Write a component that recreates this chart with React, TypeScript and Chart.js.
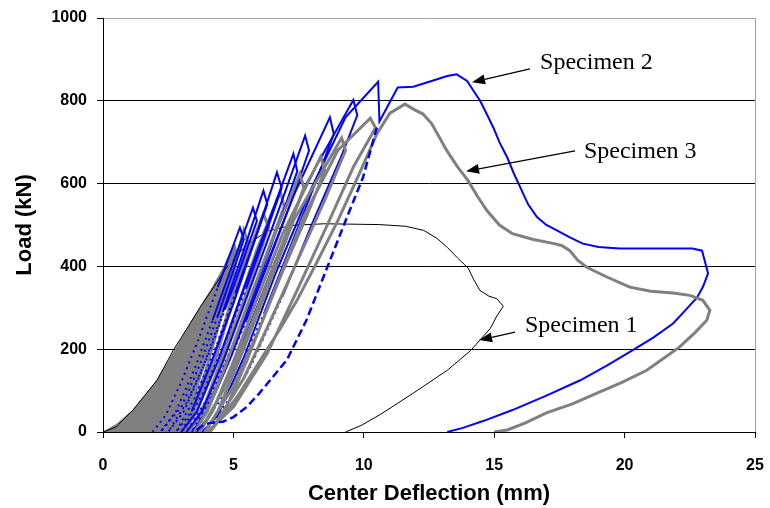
import React, { useEffect, useRef } from 'react';
import { Chart, registerables } from 'chart.js';

Chart.register(...registerables);

type P = [number, number];

// Axis ticks
const xTicks = [0, 5, 10, 15, 20, 25];
const yTicks = [0, 200, 400, 600, 800, 1000];

// Specimen 1: single monotonic loading, softening branch and unloading (kN vs mm)
const spec1: P[] = [
  [0, 0], [0.5, 12], [1.15, 53], [2.07, 125], [2.7, 198], [3.34, 262], [3.72, 301],
  [4.3, 355], [4.75, 398], [5.5, 452], [6.3, 485], [7.2, 499], [8.5, 503], [10.6, 501],
  [11.6, 497], [12.3, 487], [12.8, 468], [13.2, 446], [13.6, 420], [14.0, 396], [14.2, 370],
  [14.45, 342], [14.8, 328], [15.1, 322], [15.35, 304], [15.1, 280], [14.85, 250],
  [14.1, 197], [13.2, 149], [11.9, 94], [10.6, 41], [9.9, 16], [9.3, 0],
];

// Specimen 3: dense band of small early cycles (outline of the overlapping loops)
const spec3Band: P[] = [
  [0, 0], [0.5, 18], [1.15, 53], [1.6, 88], [2.07, 125], [2.76, 198], [3.34, 262],
  [3.72, 301], [4.2, 350], [4.6, 395], [4.85, 430], [5.0, 446], [5.15, 425], [5.05, 385],
  [4.7, 320], [4.3, 250], [3.9, 170], [3.6, 100], [3.4, 45], [3.3, 0], [0, 0],
];

// Specimen 3: first reloading / unloading cycles
const spec3Early: P[] = [
  [2.6, 0], [3.1, 50], [3.6, 130], [4.1, 230], [4.6, 340], [5.05, 446], [5.15, 425], [4.85, 360], [4.35, 260], [3.85, 160], [3.35, 70], [2.9, 0],
  [3.4, 50], [3.9, 140], [4.4, 250], [4.9, 370], [5.4, 487], [5.55, 460], [5.2, 380], [4.7, 270], [4.2, 170], [3.6, 70], [3.1, 0],
  [3.6, 50], [4.2, 150], [4.8, 280], [5.5, 420], [6.15, 527], [6.35, 495], [5.9, 410], [5.3, 300], [4.7, 190], [4.0, 80], [3.3, 0],
  [3.8, 50], [4.4, 150], [5.1, 290], [5.9, 440], [6.8, 580], [6.95, 545], [6.4, 450], [5.7, 330], [5.0, 210], [4.2, 90], [3.5, 0],
];

// Specimen 3: later cycles, then the final loop to failure and unloading
const spec3Late: P[] = [
  [3.5, 0], [4.0, 50], [4.7, 160], [5.5, 300], [6.4, 450], [7.55, 624], [7.7, 590], [7.1, 490], [6.3, 360], [5.5, 230], [4.6, 100], [3.7, 0],
  [4.2, 50], [5.0, 170], [5.9, 320], [6.9, 480], [8.35, 665], [8.5, 630], [7.8, 520], [6.9, 390], [6.0, 250], [5.0, 110], [3.9, 0],
  [4.4, 50], [5.2, 170], [6.2, 330], [7.3, 510], [9.15, 710], [9.3, 680], [8.5, 560], [7.5, 420], [6.5, 280], [5.4, 130], [4.1, 0],
  [4.6, 40], [5.5, 170], [6.5, 330], [7.7, 520], [9.0, 680], [10.25, 758], [10.45, 735], [9.6, 640], [8.6, 500], [7.5, 350], [6.3, 190], [5.0, 60], [4.0, 0],
  [4.5, 30], [5.2, 90], [6.0, 170], [6.8, 250], [7.44, 318], [8.2, 410], [9.0, 510], [9.8, 620], [10.5, 720], [11.0, 770], [11.58, 792],
  [11.9, 780], [12.27, 768], [12.6, 745], [13.19, 679], [13.6, 640], [14.0, 607], [14.35, 570], [14.72, 535], [15.2, 500], [15.7, 479],
  [16.5, 465], [17.3, 455], [17.6, 450], [17.9, 438], [18.2, 415], [18.55, 398], [19.3, 375], [20.2, 350], [21.0, 340], [21.86, 336],
  [22.5, 330], [23.0, 318], [23.27, 294], [23.15, 270], [22.7, 240], [22.1, 205], [21.5, 178], [20.85, 149], [19.9, 120], [18.94, 94],
  [18.0, 68], [17.0, 46], [16.2, 22], [15.5, 5], [15.0, 0],
];

// Specimen 2: cycles with growing peaks, then the post-peak branch and unloading
const spec2: P[] = [
  [1.9, 0], [2.4, 40], [3.0, 120], [3.7, 230], [4.4, 350], [5.25, 494], [5.4, 465], [5.0, 390], [4.4, 280], [3.7, 160], [3.0, 60], [2.2, 0],
  [2.8, 50], [3.5, 150], [4.2, 270], [5.0, 410], [5.75, 542], [5.9, 510], [5.4, 420], [4.7, 300], [4.0, 180], [3.2, 70], [2.5, 0],
  [3.1, 50], [3.8, 150], [4.6, 290], [5.4, 440], [6.15, 583], [6.3, 550], [5.8, 460], [5.1, 340], [4.3, 200], [3.5, 80], [2.8, 0],
  [3.4, 50], [4.1, 160], [5.0, 310], [5.8, 460], [6.67, 627], [6.85, 590], [6.3, 490], [5.5, 350], [4.7, 220], [3.8, 90], [3.0, 0],
  [3.6, 50], [4.4, 170], [5.3, 330], [6.3, 500], [7.3, 672], [7.45, 630], [6.9, 530], [6.1, 390], [5.2, 240], [4.2, 100], [3.2, 0],
  [3.8, 50], [4.6, 170], [5.6, 340], [6.7, 530], [7.75, 716], [7.9, 680], [7.3, 570], [6.4, 420], [5.5, 270], [4.4, 110], [3.4, 0],
  [4.0, 50], [4.9, 180], [6.0, 360], [7.3, 570], [8.7, 760], [8.85, 720], [8.2, 610], [7.2, 450], [6.2, 290], [5.0, 120], [3.6, 0],
  [4.2, 50], [5.2, 190], [6.4, 380], [7.8, 600], [9.6, 802], [9.75, 765], [9.1, 660], [8.0, 500], [6.9, 330], [5.6, 150], [4.2, 20], [3.8, 0],
  [4.4, 40], [5.4, 180], [6.6, 380], [8.0, 590], [9.3, 760], [10.55, 846], [10.6, 750], [11.3, 832], [11.9, 834], [12.6, 848],
  [13.2, 860], [13.56, 864], [13.96, 848], [14.2, 825], [14.46, 800], [14.7, 770], [14.97, 735], [15.2, 700], [15.5, 663],
  [15.75, 625], [16.0, 591], [16.3, 550], [16.64, 519], [17.0, 500], [17.4, 487], [17.9, 470], [18.4, 455], [19.0, 447],
  [19.8, 443], [22.6, 443], [22.97, 438], [23.2, 383], [23.0, 350], [22.78, 325], [22.3, 292], [21.86, 262], [21.1, 228],
  [20.3, 197], [19.3, 160], [18.3, 125], [17.0, 88], [15.7, 53], [14.6, 27], [13.8, 10], [13.2, 0],
];

// Specimen 2: sparse-sampled reloading branch before the peak
const spec2Reload: P[] = [
  [3.6, 5], [3.8, 15], [4.1, 22], [4.6, 25], [5.0, 36], [5.5, 60], [6.0, 94], [7.05, 174],
  [7.8, 270], [8.6, 398], [9.35, 518], [9.97, 615], [10.5, 735],
];

// Callouts: text anchor (left, baseline) and arrow tail -> head, in data units
const labelTexts = ['Specimen 2', 'Specimen 3', 'Specimen 1'];
const labelPos: P[] = [[16.76, 877], [18.44, 662], [16.18, 241]];
const arrowFrom: P[] = [[16.37, 877], [18.1, 679], [15.8, 241]];
const arrowTo: P[] = [[14.15, 845], [13.92, 630], [14.42, 222]];

const toXY = (pts: P[]) => pts.map(([x, y]) => ({ x, y }));

const calloutPlugin = {
  id: 'specimenCallouts',
  afterDatasetsDraw(chart: any) {
    const { ctx, scales } = chart;
    const sx = scales.x;
    const sy = scales.y;
    ctx.save();
    ctx.fillStyle = '#000';
    ctx.strokeStyle = '#000';
    ctx.font = '24px "Liberation Serif", "Times New Roman", serif';
    ctx.textAlign = 'left';
    ctx.textBaseline = 'alphabetic';
    labelTexts.forEach((t, i) => {
      ctx.fillText(t, sx.getPixelForValue(labelPos[i][0]), sy.getPixelForValue(labelPos[i][1]));
      const x1 = sx.getPixelForValue(arrowFrom[i][0]);
      const y1 = sy.getPixelForValue(arrowFrom[i][1]);
      const x2 = sx.getPixelForValue(arrowTo[i][0]);
      const y2 = sy.getPixelForValue(arrowTo[i][1]);
      const a = Math.atan2(y2 - y1, x2 - x1);
      const len = 13;
      const half = 5;
      const bx = x2 - len * Math.cos(a);
      const by = y2 - len * Math.sin(a);
      ctx.lineWidth = 1.3;
      ctx.beginPath();
      ctx.moveTo(x1, y1);
      ctx.lineTo(bx, by);
      ctx.stroke();
      ctx.beginPath();
      ctx.moveTo(x2, y2);
      ctx.lineTo(bx + half * Math.sin(a), by - half * Math.cos(a));
      ctx.lineTo(bx - half * Math.sin(a), by + half * Math.cos(a));
      ctx.closePath();
      ctx.fill();
    });
    ctx.restore();
  },
};

// Sparse logger samples on the low-load part of the early cycles show up as dots
const sparseBlue = (c: any) => {
  const y0 = c.p0.parsed.y;
  const y1 = c.p1.parsed.y;
  const low = y0 < 380 && y1 < 380 && c.p0.parsed.x < 7;
  const unloading = y1 < y0;
  return low && (unloading || c.p0DataIndex < 34) ? [2, 4] : undefined;
};

export default function App() {
  const ref = useRef<HTMLCanvasElement | null>(null);

  useEffect(() => {
    if (!ref.current) return;
    const tickFont = { family: '"Liberation Sans", Arial, sans-serif', size: 16, weight: 'bold' as const };
    const titleFont = { family: '"Liberation Sans", Arial, sans-serif', size: 22, weight: 'bold' as const };
    const common = { pointRadius: 0, tension: 0, spanGaps: false, fill: false };
    const chart = new Chart(ref.current, {
      type: 'line',
      data: {
        datasets: [
          { ...common, label: 'Specimen 2 reload', data: toXY(spec2Reload), borderColor: '#0000ff', borderWidth: 2.5, borderDash: [8, 4], order: 1 },
          { ...common, label: 'Specimen 3 later cycles', data: toXY(spec3Late), borderColor: '#808080', borderWidth: 3, order: 2 },
          { ...common, label: 'Specimen 2', data: toXY(spec2), borderColor: '#0000ff', borderWidth: 2, segment: { borderDash: sparseBlue }, order: 3 },
          { ...common, label: 'Specimen 3 first cycles', data: toXY(spec3Early), borderColor: '#808080', borderWidth: 3, order: 4 },
          { ...common, label: 'Specimen 1', data: toXY(spec1), borderColor: '#000000', borderWidth: 1, order: 5 },
          { ...common, label: 'Specimen 3 early cycles', data: toXY(spec3Band), borderColor: '#808080', backgroundColor: '#808080', borderWidth: 1, fill: 'shape', order: 6 },
        ] as any,
      },
      options: {
        animation: false,
        responsive: false,
        maintainAspectRatio: false,
        layout: { padding: { top: 18, right: 15, left: 0, bottom: 0 } },
        plugins: { legend: { display: false }, tooltip: { enabled: false } },
        scales: {
          x: {
            type: 'linear',
            min: 0,
            max: 25,
            afterBuildTicks: (s: any) => { s.ticks = xTicks.map((v) => ({ value: v })); },
            afterFit: (s: any) => { s.height = 76; s.paddingLeft = 0; s.paddingRight = 0; },
            ticks: { font: tickFont, color: '#000', padding: 18, maxRotation: 0, callback: (v: any) => String(v) },
            grid: {
              drawOnChartArea: true,
              color: (c: any) => (c.tick && c.tick.value === 25 ? '#a0a0a0' : 'rgba(0,0,0,0)'),
              tickColor: '#000',
              tickLength: 6,
            },
            border: { display: true, color: '#000', width: 1 },
            title: { display: true, text: 'Center Deflection (mm)', font: titleFont, color: '#000', padding: { top: 0, bottom: 1 } },
          },
          y: {
            type: 'linear',
            min: 0,
            max: 1000,
            afterBuildTicks: (s: any) => { s.ticks = yTicks.map((v) => ({ value: v })); },
            afterFit: (s: any) => { s.width = 103; s.paddingTop = 0; s.paddingBottom = 0; },
            ticks: { font: tickFont, color: '#000', padding: 10, callback: (v: any) => String(v) },
            grid: {
              color: (c: any) => (c.tick && c.tick.value === 1000 ? '#a0a0a0' : '#000'),
              tickColor: '#000',
              tickLength: 6,
            },
            border: { display: true, color: '#000', width: 1 },
            title: { display: true, text: 'Load (kN)', font: titleFont, color: '#000', padding: { top: 12, bottom: 0 } },
          },
        },
      },
      plugins: [calloutPlugin],
    });
    return () => chart.destroy();
  }, []);

  return (
    <div style={{ position: 'fixed', left: 0, top: 0, width: 770, height: 508, background: '#fff' }}>
      <canvas ref={ref} width={770} height={508} style={{ display: 'block' }} />
    </div>
  );
}
